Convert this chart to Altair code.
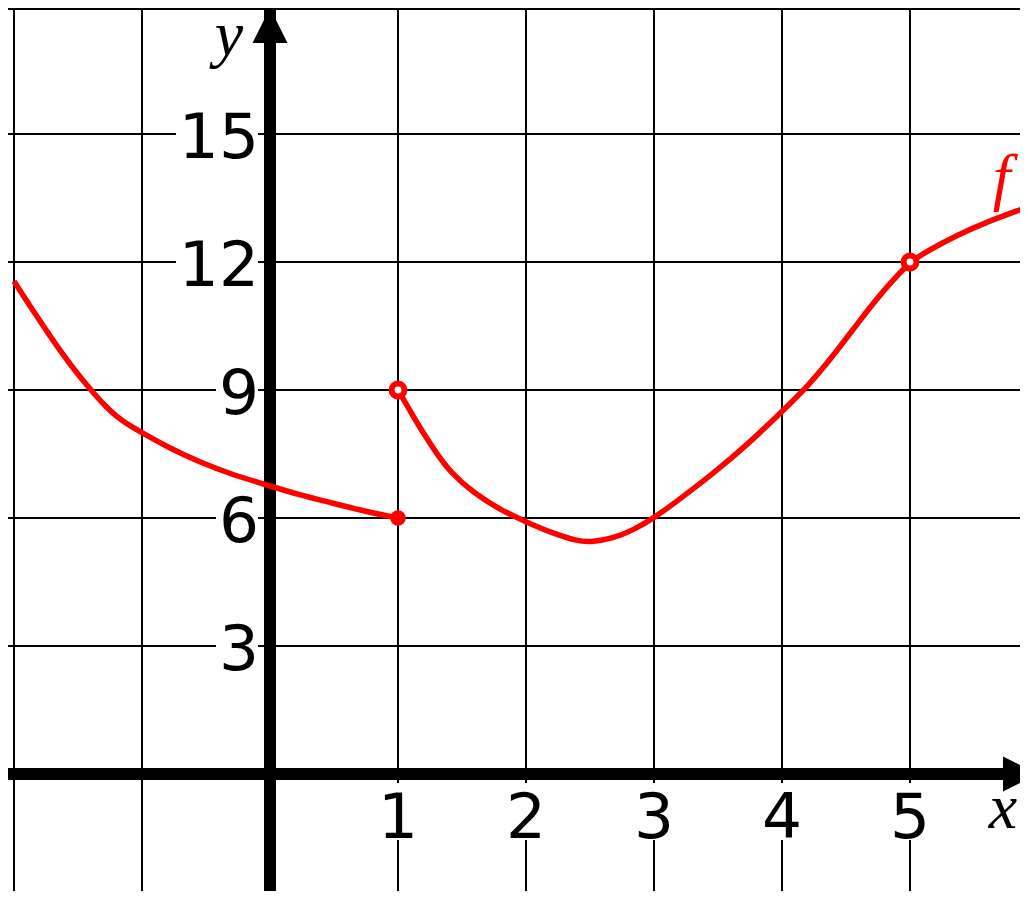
import altair as alt
import pandas as pd

# ---------------- data ----------------
x_grid = [-2, -1, 0, 1, 2, 3, 4, 5]
y_grid = [0, 3, 6, 9, 12, 15]
x_ticks = [1, 2, 3, 4, 5]
y_ticks = [3, 6, 9, 12, 15]

left_x = [-2.0, -1.85, -1.7, -1.55, -1.4, -1.28, -1.2, -1.1, -1.0, -0.8,
          -0.55, -0.29, -0.02, 0.23, 0.49, 0.76, 1.0]
left_y = [11.55, 10.85, 10.18, 9.55, 9.0, 8.6, 8.38, 8.17, 8.0, 7.66,
          7.31, 7.01, 6.77, 6.54, 6.35, 6.14, 6.0]

right_x = [1.0, 1.1, 1.2, 1.3, 1.41, 1.59, 1.8, 2.0, 2.2, 2.4, 2.5,
           2.68, 2.84, 3.0, 3.2, 3.46, 3.73, 3.98, 4.2, 4.4, 4.6, 4.77,
           4.92, 5.0, 5.16, 5.37, 5.6, 5.92]
right_y = [9.0, 8.48, 7.98, 7.52, 7.07, 6.59, 6.19, 5.91, 5.65, 5.46, 5.43,
           5.52, 5.72, 6.0, 6.44, 7.04, 7.72, 8.44, 9.08, 9.8, 10.6, 11.25,
           11.74, 12.0, 12.3, 12.63, 12.94, 13.29]

closed_x = [1]
closed_y = [6]
open_x = [1, 5]
open_y = [9, 12]

# ---------------- layout ----------------
W, H = 1012, 883
PX_X = 128.0
PX_Y = 128.0 / 3
X0_PX = 262.0
Y0_PX = 766.0
X_MIN = -X0_PX / PX_X
X_MAX = (W - X0_PX) / PX_X
Y_MAX = Y0_PX / PX_Y
Y_MIN = -(H - Y0_PX) / PX_Y

xs = alt.Scale(domain=[X_MIN, X_MAX], nice=False, zero=False)
ys = alt.Scale(domain=[Y_MIN, Y_MAX], nice=False, zero=False)


def X(f):
    return alt.X(f, type="quantitative", scale=xs, axis=None)


def Y(f):
    return alt.Y(f, type="quantitative", scale=ys, axis=None)


vgrid = alt.Chart(pd.DataFrame({"x": x_grid})).mark_rule(
    color="black", strokeWidth=2).encode(x=X("x"))
hgrid = alt.Chart(pd.DataFrame({"y": y_grid})).mark_rule(
    color="black", strokeWidth=2).encode(y=Y("y"))
topline = alt.Chart(pd.DataFrame({"y": [Y_MAX]})).mark_rule(
    color="black", strokeWidth=2, yOffset=1).encode(y=Y("y"))

xaxis = alt.Chart(pd.DataFrame({"y": [0]})).mark_rule(
    color="black", strokeWidth=12).encode(y=Y("y"))
yaxis = alt.Chart(pd.DataFrame({"x": [0]})).mark_rule(
    color="black", strokeWidth=12).encode(x=X("x"))

arrow_up = alt.Chart(pd.DataFrame({"x": [0], "y": [Y_MAX]})).mark_point(
    shape="M0,0L1,2L-1,2Z", size=1225, filled=True, color="black",
    opacity=1, strokeWidth=0).encode(x=X("x"), y=Y("y"))
arrow_right = alt.Chart(pd.DataFrame({"x": [6], "y": [0]})).mark_point(
    shape="M0,0L-2,-1L-2,1Z", size=1225, filled=True, color="black",
    opacity=1, strokeWidth=0).encode(x=X("x"), y=Y("y"))

# label backgrounds
ylab = pd.DataFrame({"v": y_ticks, "t": [str(v) for v in y_ticks]})
ylab["x1"] = (-14 - 40 * ylab["t"].str.len()) / PX_X
ylab["x2"] = -12 / PX_X
ylab["y1"] = ylab["v"] - 26 / PX_Y
ylab["y2"] = ylab["v"] + 26 / PX_Y
ylab["zero"] = 0

xlab = pd.DataFrame({"v": x_ticks, "t": [str(v) for v in x_ticks]})
xlab["x1"] = xlab["v"] - 22 / PX_X
xlab["x2"] = xlab["v"] + 22 / PX_X
xlab["y1"] = -9 / PX_Y
xlab["y2"] = -66 / PX_Y
xlab["zero"] = 0

ybox = alt.Chart(ylab).mark_rect(color="white").encode(
    x=X("x1"), x2="x2", y=Y("y1"), y2="y2")
xbox = alt.Chart(xlab).mark_rect(color="white").encode(
    x=X("x1"), x2="x2", y=Y("y1"), y2="y2")

ytext = alt.Chart(ylab).mark_text(
    font="DejaVu Sans", fontSize=63, align="right", baseline="alphabetic",
    dx=-11, dy=24, color="black").encode(x=X("zero"), y=Y("v"), text="t")
xtext = alt.Chart(xlab).mark_text(
    font="DejaVu Sans", fontSize=63, align="center", baseline="alphabetic",
    dy=64, color="black").encode(x=X("v"), y=Y("zero"), text="t")

# curve
curve_df = pd.concat([
    pd.DataFrame({"x": left_x, "y": left_y, "seg": "a"}),
    pd.DataFrame({"x": right_x, "y": right_y, "seg": "b"}),
])
curve = alt.Chart(curve_df).mark_line(
    color="#ff0000", strokeWidth=5.5, interpolate="basis").encode(
    x=X("x"), y=Y("y"), detail="seg")

closed_pts = alt.Chart(pd.DataFrame({"x": closed_x, "y": closed_y})).mark_point(
    shape="circle", filled=True, color="#ff0000", size=240, opacity=1,
    strokeWidth=0).encode(x=X("x"), y=Y("y"))
open_pts = alt.Chart(pd.DataFrame({"x": open_x, "y": open_y})).mark_point(
    shape="circle", filled=True, fill="white", stroke="#ff0000",
    strokeWidth=6, size=165, opacity=1).encode(x=X("x"), y=Y("y"))

# axis names and curve name
xname = alt.Chart(pd.DataFrame({"x": [X_MAX], "y": [0], "t": ["x"]})).mark_text(
    font="Liberation Serif", fontStyle="italic", fontSize=64, align="center",
    baseline="alphabetic", dx=-17, dy=54, color="black").encode(
    x=X("x"), y=Y("y"), text="t")
yname = alt.Chart(pd.DataFrame({"x": [0], "y": [Y_MAX], "t": ["y"]})).mark_text(
    font="Liberation Serif", fontStyle="italic", fontSize=64, align="center",
    baseline="alphabetic", dx=-41, dy=47, color="black").encode(
    x=X("x"), y=Y("y"), text="t")
fname = alt.Chart(pd.DataFrame({"x": [right_x[-1]], "y": [right_y[-1]], "t": ["f"]})).mark_text(
    font="Liberation Serif", fontStyle="italic", fontSize=64, align="center",
    baseline="alphabetic", dx=-26, dy=-9, color="#ff0000").encode(
    x=X("x"), y=Y("y"), text="t")

chart = alt.layer(
    vgrid, hgrid, topline, xaxis, yaxis, arrow_up, arrow_right,
    ybox, xbox, ytext, xtext, curve, closed_pts, open_pts,
    xname, yname, fname,
).properties(
    width=W, height=H, padding=0,
    autosize=alt.AutoSizeParams(type="none"),
).configure_view(stroke=None)

chart.save("out.html", embed_options={"renderer": "svg", "actions": False})
